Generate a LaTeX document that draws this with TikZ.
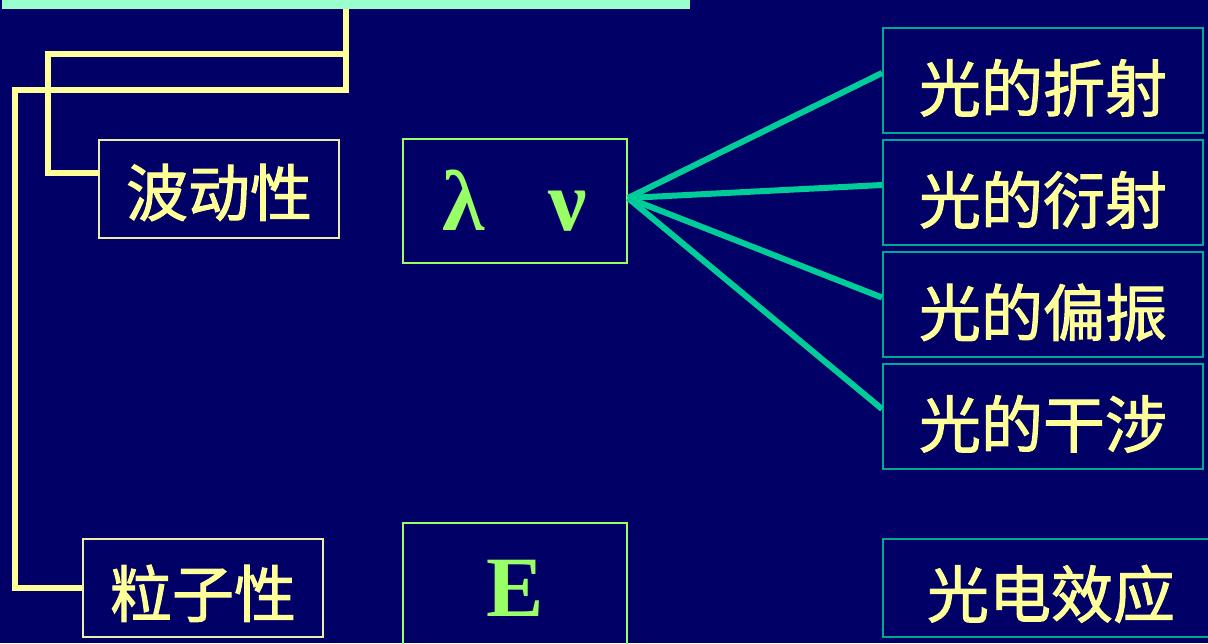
\documentclass[tikz,border=0pt]{standalone}
\usepackage{fontspec}
\newfontfamily\cjk[FakeBold=1.6]{Noto Sans CJK SC}
\newfontfamily\grk{Liberation Serif}
\definecolor{bg}{HTML}{000066}
\definecolor{ylw}{HTML}{FFFF99}
\definecolor{ybord}{HTML}{EEEEAA}
\definecolor{grn}{HTML}{99FF66}
\definecolor{tealline}{HTML}{00CC99}
\definecolor{tealbord}{HTML}{00AA90}
\definecolor{mint}{HTML}{99FFCC}
\begin{document}
\begin{tikzpicture}[x=1pt,y=-1pt,
  ybox/.style={draw=ybord, line width=1.5pt, text=ylw, inner sep=0pt,
    font=\cjk\fontsize{62}{62}\selectfont, minimum width=240, minimum height=98,
    text depth=0pt},
  gbox/.style={draw=grn, line width=1.8pt, text=grn, inner sep=0pt,
    font=\grk\bfseries\fontsize{86}{86}\selectfont, minimum width=224},
  tbox/.style={draw=tealbord, line width=2pt, text=ylw, inner sep=0pt,
    font=\cjk\fontsize{62}{62}\selectfont, minimum width=320, minimum height=105,
    text height=63pt, text depth=0pt},
  yl/.style={draw=ylw, line width=6.5pt, line join=miter},
  tl/.style={draw=tealline, line width=6pt}]
\fill[bg] (0,0) rectangle (1208,643);
\useasboundingbox (0,0) rectangle (1208,643);
\clip (0,0) rectangle (1208,643);
% top bar
\node[fill=mint, minimum width=688, minimum height=12, inner sep=0pt] (top) at (346,3) {};
% left boxes
\node[ybox, text height=54pt] (wave) at (219,189) {波动性};
\node[ybox, text height=58pt] (part) at (203,588) {粒子性};
% green boxes
\node[gbox, minimum height=124] (lv) at (515,201) {λ\hspace{64pt}ν};
\node[gbox, minimum height=130] (E) at (515,588) {E};
% right boxes
\node[tbox] (r1) at (1043,80) {光的折射};
\node[tbox] (r2) at (1043,192) {光的衍射};
\node[tbox] (r3) at (1043,304.5) {光的偏振};
\node[tbox] (r4) at (1043,416) {光的干涉};
\node[tbox, minimum width=336, minimum height=98, text height=59pt] (r5) at (1051,588) {光电效应};
% yellow connectors
\coordinate (wa) at (99,173);
\draw[yl] (wa) -| (48,54) -| (top.south);
\draw[yl] (part.west) -| (15,90) -- (346,90) -- (346,54);
% teal connectors
\coordinate (src) at (628,198);
\draw[tl] (src) -- ([yshift=7pt]r1.west);
\draw[tl] (src) -- ([yshift=7pt]r2.west);
\draw[tl] (src) -- ([yshift=7pt]r3.west);
\draw[tl] (src) -- ([yshift=7pt]r4.west);
\end{tikzpicture}
\end{document}
